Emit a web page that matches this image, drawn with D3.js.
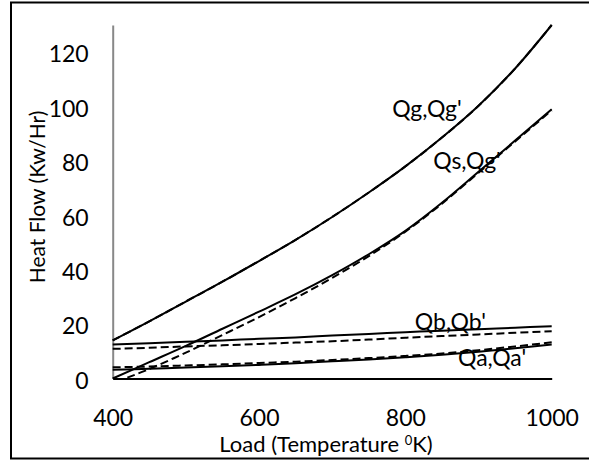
<!DOCTYPE html>
<html>
<head>
<meta charset="utf-8">
<script src="https://cdn.jsdelivr.net/npm/d3@7"></script>
<style>
body { margin: 0; background: #fff; }
.tick text { font-family: Lato, "Open Sans", sans-serif; font-size: 23px; fill: #000; }
.heat-label { font-family: Lato, "Open Sans", sans-serif; font-size: 22px; fill: #000; }
.series-label { font-family: Lato, "Open Sans", sans-serif; font-size: 23px; fill: #000; }
</style>
</head>
<body>
<div id="chart"></div>
<script>
// load temperatures (K)
let temps = [400, 450, 500, 550, 600, 650, 700, 750, 800, 850, 900, 950, 1000];
let qsPrimeTemps = [420, 450, 500, 550, 600, 650, 700, 750, 800, 850, 900, 950, 1000];

// heat flow (Kw/Hr)
let qg      = [14, 21, 28.3, 35.6, 43.2, 51, 59.4, 68.4, 78, 88.6, 100.3, 114, 130];
let qgPrime = [14, 21, 28.3, 35.6, 43.2, 51, 59.4, 68.4, 78, 88.6, 100.3, 114, 130];
let qs      = [0, 6, 12, 18.3, 24.6, 31, 38, 45.7, 54.3, 64.6, 76, 87.5, 99];
let qsPrime = [0.3, 3.5, 9.5, 16, 22.6, 29.6, 37, 45, 54, 64.3, 75.7, 87.2, 98.6];
let qb      = [12.5, 13, 13.5, 14, 14.6, 15.1, 15.8, 16.4, 17, 17.6, 18.1, 18.7, 19.2];
let qbPrime = [10.9, 11.3, 11.8, 12.2, 12.7, 13.2, 13.7, 14.3, 15, 15.6, 16.2, 16.8, 17.4];
let qa      = [3.2, 3.6, 4, 4.5, 5, 5.6, 6.3, 7, 7.8, 8.7, 9.8, 11.1, 12.5];
let qaPrime = [4.1, 4.4, 4.8, 5.2, 5.7, 6.2, 6.8, 7.5, 8.3, 9.2, 10.4, 11.8, 13.3];

let xTicks = [400, 600, 800, 1000];
let yTicks = [0, 20, 40, 60, 80, 100, 120];

// curve labels, anchored in data units (temperature, heat flow)
let labelNames = ["Qg,Qg'", "Qs,Qg'", "Qb,Qb'", "Qa,Qa'"];
let labelT = [782, 838, 813, 872];
let labelQ = [96.2, 77, 17.8, 4.6];

function drawChart(e) {
    let width = 589, height = 462;
    let margin = { left: 112.7, top: 25, right: 37.3, bottom: 83.5 };
    let w = width - margin.left - margin.right;
    let h = height - margin.top - margin.bottom;

    let svg = d3.select(e)
	.append("svg")
	.attr("width", width)
	.attr("height", height);

    // outer frame (right edge falls just past the picture)
    svg.append("rect")
	.attr("x", 11).attr("y", 2.5)
	.attr("width", 590).attr("height", 456)
	.attr("fill", "none")
	.attr("stroke", "#000")
	.attr("stroke-width", 2);

    let g = svg.append("g")
	.attr("transform", "translate(" + margin.left + "," + margin.top + ")");

    let x = d3.scaleLinear().domain([400, 1000]).range([0, w]);
    let y = d3.scaleLinear().domain([0, 130]).range([h, 0]);

    // y-axis
    let ya = g.append("g")
	.call(d3.axisLeft(y).tickValues(yTicks).tickSize(0).tickPadding(24));
    ya.select(".domain").attr("stroke", "#888").attr("stroke-width", 2);
    ya.selectAll(".tick text").attr("dy", "0.42em");

    // x-axis
    let xa = g.append("g")
	.attr("transform", "translate(0," + h + ")")
	.call(d3.axisBottom(x).tickValues(xTicks).tickFormat(d3.format("d")).tickSize(0).tickPadding(31));
    xa.select(".domain").attr("stroke", "#000").attr("stroke-width", 2.2);

    let line = d3.line()
	.x(function(d) { return x(d[0]) })
	.y(function(d) { return y(d[1]) })
	.curve(d3.curveCatmullRom);

    let series = [
	{ t: temps, v: qa, dash: null },
	{ t: temps, v: qaPrime, dash: "8,4" },
	{ t: temps, v: qb, dash: null },
	{ t: temps, v: qbPrime, dash: "8,4" },
	{ t: temps, v: qs, dash: null },
	{ t: qsPrimeTemps, v: qsPrime, dash: "8,4" },
	{ t: temps, v: qgPrime, dash: "8,4" },
	{ t: temps, v: qg, dash: null }
    ];

    series.forEach(function(s) {
	g.append("path")
	    .datum(d3.zip(s.t, s.v))
	    .attr("fill", "none")
	    .attr("stroke", "#000")
	    .attr("stroke-width", 2)
	    .attr("stroke-dasharray", s.dash)
	    .attr("d", line);
    });

    // curve labels
    labelNames.forEach(function(n, i) {
	g.append("text")
	    .classed("series-label", true)
	    .attr("x", x(labelT[i]))
	    .attr("y", y(labelQ[i]))
	    .text(n);
    });

    // axis titles
    let xt = svg.append("text")
	.classed("heat-label", true)
	.attr("x", 326)
	.attr("y", 452)
	.attr("text-anchor", "middle");
    xt.append("tspan").text("Load (Temperature ");
    xt.append("tspan").attr("dy", -7).style("font-size", "13px").text("0");
    xt.append("tspan").attr("dy", 7).text("K)");

    svg.append("text")
	.classed("heat-label", true)
	.attr("transform", "translate(45,197) rotate(-90)")
	.attr("text-anchor", "middle")
	.style("font-size", "21px")
	.text("Heat Flow (Kw/Hr)");
}

drawChart("#chart");
</script>
</body>
</html>
